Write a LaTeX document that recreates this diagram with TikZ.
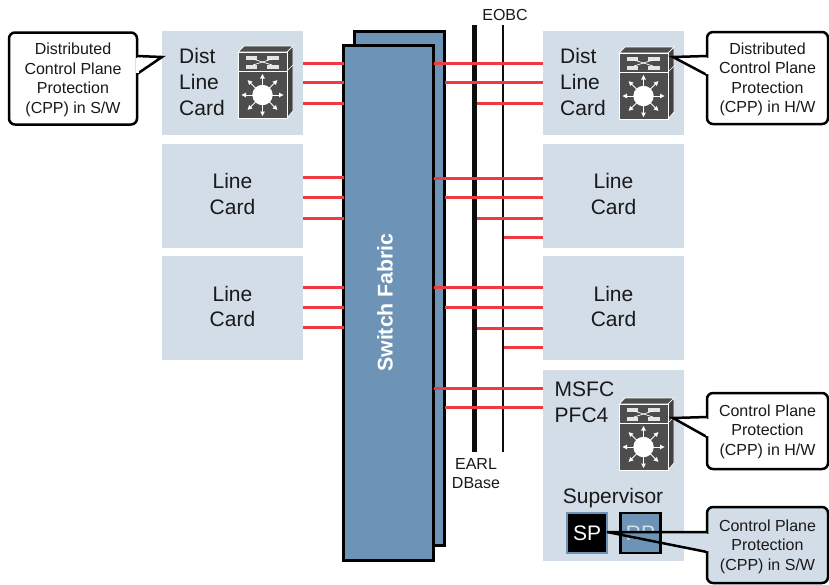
\documentclass[tikz,border=0pt]{standalone}
\usepackage{fontspec}
\setmainfont{Liberation Sans}
\definecolor{cardblue}{HTML}{D2DDE8}
\definecolor{fabricblue}{HTML}{6D94B6}
\definecolor{linkred}{HTML}{EE3A40}
\definecolor{icongray}{HTML}{4D4D4D}
\newcommand{\sz}[2]{\fontsize{#1}{#2}\selectfont}
\newcommand{\calltext}[2]{\raisebox{#1}[0pt][0pt]{\begin{tabular}[c]{@{}c@{}}#2\end{tabular}}}
\tikzset{
  x=1pt,y=-1pt,
  card/.style={fill=cardblue,minimum width=141pt,inner sep=0pt,outer sep=0pt},
  fabric/.style={draw=black,line width=3pt,fill=fabricblue,inner sep=0pt,outer sep=0pt,minimum width=90pt},
  link/.style={linkred,line width=3pt},
  cardtext/.style={font=\sz{21}{25.8},align=left,inner sep=0pt,text=black!90},
  callout/.style={draw=black,line width=2.5pt,fill=white,rounded corners=6pt,inner sep=0pt,outer sep=0pt,minimum width=121pt,align=center,font=\sz{16}{19.5},text=black!90},
  calltail/.style={draw=black,line width=2.5pt,miter limit=10},
  bus/.style={black!95,line cap=butt},
  lbl/.style={font=\sz{16}{19.8},align=center,inner sep=0pt,text=black!90},
  proc/.style={minimum width=40pt,minimum height=40pt,inner sep=0pt,outer sep=0pt,line width=2.6pt,font=\sz{21}{24},text=white},
  pics/switchicon/.style={code={
    \path[fill=icongray,draw=white,line width=.7pt] (0,6) -- (6,0) -- (55,0) -- (49,6) -- cycle;
    \path[fill=icongray!85!black,draw=white,line width=.7pt] (49,6) -- (55,0) -- (55,65) -- (49,72) -- cycle;
    \path[fill=icongray,draw=white,line width=.7pt] (0,6) rectangle (49,25);
    \path[fill=icongray,draw=white,line width=.7pt] (0,25) rectangle (49,72);
    \draw[white,line width=.6pt] (49,25) -- (55,19);
    % upper face: two bars joined by a cross
    \fill[white!90!black] (8,9.5) rectangle (19,13.5);
    \fill[white!90!black] (29,9.5) rectangle (41,13.5);
    \fill[white!90!black] (8,18.5) rectangle (19,22.5);
    \fill[white!90!black] (29,18.5) rectangle (41,22.5);
    \draw[white,line width=.7pt] (15,13) -- (34,19);
    \draw[white,line width=.7pt] (15,19) -- (34,13);
    % lower face: hub with eight arrows
    \fill[white] (24.5,49) circle[radius=10.2];
    \foreach \a in {0,45,...,315}{
      \begin{scope}[shift={(24.5,49)},rotate=\a]
        \draw[white,line width=1pt] (9,0) -- (18,0);
        \fill[white] (21,0) -- (16.5,-2.4) -- (16.5,2.4) -- cycle;
      \end{scope}
    }
  }}
}
\begin{document}
\begin{tikzpicture}
\useasboundingbox (0,0) rectangle (829,584);
% line cards
\node[card,minimum height=104pt] (ll) at (232.5,83) {};
\node[card,minimum height=104pt] (lm) at (232.5,196) {};
\node[card,minimum height=104pt] (lb) at (232.5,308) {};
\node[card,minimum height=104pt] (rt) at (613.5,83) {};
\node[card,minimum height=104pt] (rm) at (613.5,196) {};
\node[card,minimum height=104pt] (rb) at (613.5,308) {};
\node[card,minimum height=191pt] (sup) at (613.5,465.5) {};
% switch fabric
\node[fabric,minimum height=514pt] (fabback) at (399.6,288.5) {};
\node[fabric,minimum height=515pt] (fabfront) at (388.6,303) {};
\node[rotate=90,font=\bfseries\sz{21.3}{22},text=white,inner sep=0pt] (fablabel) at (385,302.5) {Switch Fabric};
% buses
\coordinate (earltop) at (474,25);
\coordinate (earlbot) at (474,452);
\coordinate (eobctop) at (503,25);
\coordinate (eobcbot) at (503,452);
\draw[bus,line width=5pt] (earltop) -- (earlbot);
\draw[bus,line width=2.6pt] (eobctop) -- (eobcbot);
\node[lbl] (eobc) at (505,14.5) {EOBC};
\node[lbl] (earl) at (476,473.5) {EARL\\DBase};
% left links
\foreach \y in {63,82,103}{\draw[link] (ll.east |- 0,\y) -- (fabfront.west |- 0,\y);}
\foreach \y in {177,197,218}{\draw[link] (lm.east |- 0,\y) -- (fabfront.west |- 0,\y);}
\foreach \y in {287,307,327}{\draw[link] (lb.east |- 0,\y) -- (fabfront.west |- 0,\y);}
% right links
\foreach \c/\a/\b/\p/\q in {rt/63/82/103/0,rm/178/197/218/237,rb/287/307/328/347,sup/388/407/0/0}{
  \draw[link] (fabfront.east |- 0,\a) -- (\c.west |- 0,\a);
  \draw[link] (fabback.east |- 0,\b) -- (\c.west |- 0,\b);
  \ifdim\p pt>0pt \draw[link] (earltop |- 0,\p) ++(2.5,0) -- (\c.west |- 0,\p);\fi
  \ifdim\q pt>0pt \draw[link] (eobctop |- 0,\q) ++(1.3,0) -- (\c.west |- 0,\q);\fi
}
% card text
\node[cardtext,anchor=north west] (t1) at (179,48.5) {Dist\\Line\\Card};
\node[cardtext,anchor=north west] (t2) at (560,48.5) {Dist\\Line\\Card};
\node[cardtext,align=center] (t3) at (232.5,194) {Line\\Card};
\node[cardtext,align=center] (t4) at (613.5,194) {Line\\Card};
\node[cardtext,align=center] (t5) at (232.5,306.5) {Line\\Card};
\node[cardtext,align=center] (t6) at (613.5,306.5) {Line\\Card};
\node[cardtext,anchor=north west] (t7) at (554.5,382) {MSFC\\PFC4};
\node[cardtext,anchor=center] (t8) at (613,498) {Supervisor};
% icons
\pic at (238,46) {switchicon};
\pic at (619,47) {switchicon};
\pic at (619,398) {switchicon};
% processors
\node[proc,draw=fabricblue,fill=black] (sp) at (587,533) {SP};
\node[proc,draw=black,fill=fabricblue,text=white!70!fabricblue] (rp) at (640.5,533) {RP};
% callouts
\node[callout,minimum width=128pt,minimum height=92pt] (c1) at (73,78.5) {\calltext{-6pt}{Distributed\\Control Plane\\Protection\\(CPP) in S/W}};
\node[callout,minimum height=92pt] (c2) at (767.5,78) {\calltext{-6pt}{Distributed\\Control Plane\\Protection\\(CPP) in H/W}};
\node[callout,minimum height=76pt] (c3) at (767.5,431) {\calltext{-5pt}{Control Plane\\Protection\\(CPP) in H/W}};
\node[callout,minimum height=76pt,fill=cardblue] (c4) at (767.5,545) {\calltext{-6pt}{Control Plane\\Protection\\(CPP) in S/W}};
% tails
\coordinate (tip1) at (ll.west |- 0,57);
\coordinate (tip2) at (673,57);
\coordinate (tip3) at (673,418);
\coordinate (tip4) at (sp.east |- 0,532);
\draw[calltail,fill=white] (c1.east |- 0,56) -- (tip1) -- (c1.east |- 0,74);
\draw[white,line width=3pt] (c1.east |- 0,57.5) -- (c1.east |- 0,72.5);
\draw[calltail,fill=white] (c2.west |- 0,56) -- (tip2) -- (c2.west |- 0,75);
\draw[white,line width=3pt] (c2.west |- 0,57.5) -- (c2.west |- 0,73.5);
\draw[calltail,fill=white] (c3.west |- 0,417) -- (tip3) -- (c3.west |- 0,437);
\draw[white,line width=3pt] (c3.west |- 0,418.5) -- (c3.west |- 0,435.5);
% the S/W tail: light over the card, mid blue where it crosses the RP box
\fill[cardblue] (c4.west |- 0,532) -- (tip4) -- (c4.west |- 0,552) -- cycle;
\begin{scope}
  \clip (rp.north west) rectangle (rp.south east);
  \fill[fabricblue] (c4.west |- 0,532) -- (tip4) -- (c4.west |- 0,552) -- cycle;
\end{scope}
\draw[black,line width=2.6pt] (rp.north west) rectangle (rp.south east);
\draw[calltail] (c4.west |- 0,532) -- (tip4) -- (c4.west |- 0,552);
\draw[cardblue,line width=3pt] (c4.west |- 0,533.5) -- (c4.west |- 0,550.5);
\end{tikzpicture}
\end{document}
